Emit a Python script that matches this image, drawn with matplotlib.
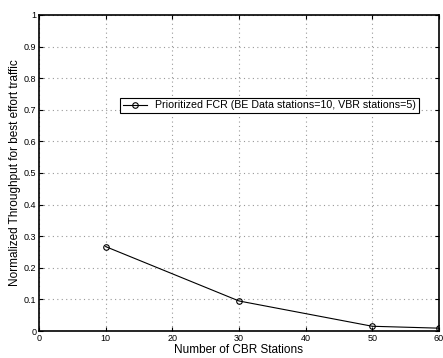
import matplotlib
matplotlib.use("Agg")
import matplotlib.pyplot as plt

# data
cbrStations = [10, 30, 50, 60]
throughput = [0.267, 0.095, 0.015, 0.009]
seriesLabel = "Prioritized FCR (BE Data stations=10, VBR stations=5)"

plt.rcParams['font.family'] = ['Liberation Sans', 'DejaVu Sans']

figure = plt.figure(figsize=(4.43, 3.58), dpi=100)
axis = figure.add_axes([0.088, 0.0754, 0.903, 0.883])
axis.plot(cbrStations, throughput, color='black', linewidth=0.8, marker='o',
          markersize=4, markerfacecolor='none', markeredgewidth=0.8, label=seriesLabel)
axis.set_xlim(0, 60)
axis.set_ylim(0, 1)
axis.set_xticks(range(0, 61, 10))
axis.set_yticks([i / 10 for i in range(11)])
axis.set_yticklabels(['0', '0.1', '0.2', '0.3', '0.4', '0.5', '0.6', '0.7', '0.8', '0.9', '1'])
axis.tick_params(direction='in', labelsize=6.5, length=3, pad=2, top=True, right=True)
axis.set_xlabel("Number of CBR Stations", fontsize=8.5, labelpad=1)
axis.set_ylabel("Normalized Throughput for best effort traffic", fontsize=8.5, labelpad=2)
axis.grid(color='#999999', linestyle=(0, (1, 3)), linewidth=0.8)
for s in axis.spines.values():
    s.set_linewidth(1.2)
axis.legend(loc='upper left', bbox_to_anchor=(0.19, 0.755), fontsize=7.7, frameon=True,
            fancybox=False, edgecolor='black', borderpad=0.25, handlelength=2.2,
            framealpha=1).get_frame().set_linewidth(0.8)
figure.savefig("out.png", dpi=100)
